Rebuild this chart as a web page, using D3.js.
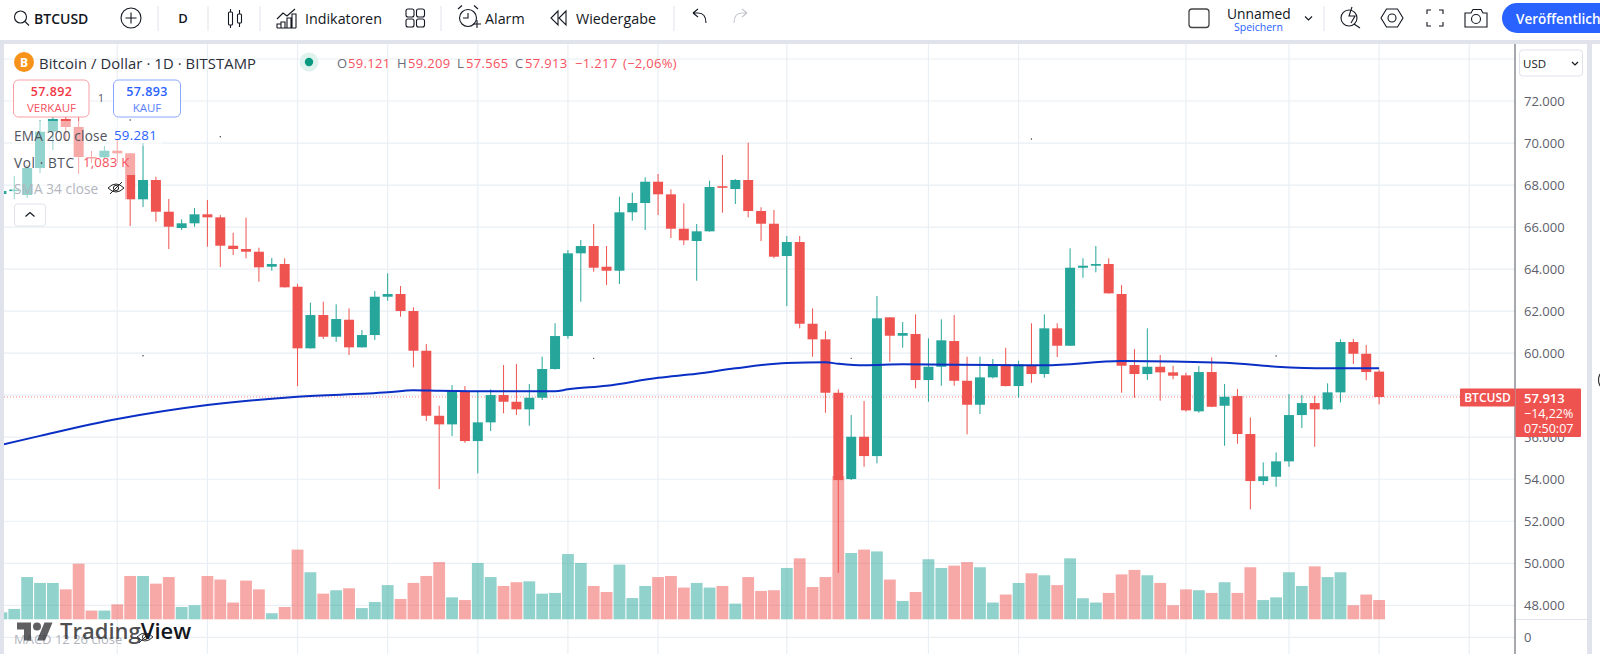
<!DOCTYPE html>
<html>
<head>
<meta charset="utf-8">
<title>BTCUSD</title>
<script src="https://cdn.jsdelivr.net/npm/d3@7"></script>
<style>
	html, body { margin: 0; padding: 0; background: #fff; overflow: hidden; }
	svg { display: block; font-family: "Open Sans", sans-serif; }
</style>
</head>
<body>
<svg id="chart" width="1600" height="654"></svg>
<script>
// Daily candles, oldest first (USD)
var opens = [
	67574,67731,67526,68811,70539,71144,70763,69335,69320,69635,
	69511,67321,68240,66731,65955,66179,66607,66464,65113,64956,
	64827,64113,64242,63161,60229,61814,60781,61590,60276,60862,
	62685,62814,62004,60115,57020,56611,58196,55816,56706,58006,
	57687,57325,57878,59244,60814,64751,65098,64113,63923,66703,
	67145,68159,67559,65922,65336,65798,67945,67812,68240,66764,
	66160,64622,65289,61400,60657,58115,54008,56021,55102,61704,
	60829,60910,58720,59353,60576,58686,57544,58848,59467,58434,
	59434,59006,61181,60353,64065,64161,64242,62814,59434,59006,
	59353,59086,58943,57230,59101,57497,57958,56150,53912,54117,
	54850,57054,57625,57325,58134,60529,59971,59121
];
var highs = [
	67800,68430,68954,71096,71429,71334,71286,69620,69858,70144,
	69525,70001,68397,67336,66369,66907,67288,66574,65731,66445,
	65018,64527,64513,63290,62400,62447,62323,62133,61100,62956,
	63799,63194,62181,60434,57497,58482,58434,58211,58277,59434,
	59482,58530,59829,61419,64908,65384,66146,65098,67445,67636,
	68369,68526,67797,67131,66146,68207,69430,68288,70015,66942,
	66812,65574,65574,62133,61052,58277,57054,57720,62718,61720,
	61481,61847,60705,61609,61814,59829,59829,59720,60258,59639,
	61419,61847,61419,64989,64513,65098,64513,63242,60196,61181,
	59910,59401,59068,59386,59800,58530,58292,56944,54802,55278,
	58054,58006,57973,58563,60657,60672,60386,59209
];
var lows = [
	67400,67336,67383,68573,69668,70144,68526,69049,69270,69049,
	66050,66955,66255,64956,65860,66017,65065,64099,64670,64513,
	63399,63923,63123,58434,60220,60672,60543,59910,60267,60624,
	62495,61733,59325,56768,53532,56054,55735,54279,56292,57135,
	57054,56545,57768,59220,60686,62447,63875,63242,63290,66303,
	65860,66574,65479,65146,63447,65780,66683,67098,66464,65336,
	64513,62242,61181,59829,57164,49548,53960,54593,54755,59591,
	60258,58325,57687,58449,58449,56135,57102,58800,58420,57878,
	58591,58830,59815,60340,63589,63846,62830,58115,57878,58720,
	57734,58753,57220,57164,57430,55593,55688,52566,53722,53641,
	54593,56435,55545,57300,57658,59481,58706,57565
];
var closes = [
	67716,67788,68811,70539,71144,70763,69335,69287,69635,69511,
	67321,68240,66731,66017,66179,66607,66464,65113,64956,64827,
	64084,64242,63133,60229,61814,60781,61624,60276,60862,62685,
	62814,62004,60115,57020,56611,58196,55816,56706,58006,57687,
	57325,57878,59244,60814,64751,65098,64065,63923,66703,67145,
	68159,67559,65922,65370,65798,67907,67883,68240,66764,66160,
	64589,65289,61400,60657,58115,53960,56021,55102,61657,60829,
	60957,58720,59353,60610,58686,57544,58848,59467,58434,59467,
	59006,61181,60353,64065,64161,64242,62847,59401,59006,59353,
	59086,58925,57278,59101,57449,57925,56150,53912,54136,54850,
	57054,57625,57325,58134,60529,59971,59101,57913
];
// Volume in thousand BTC
var volumes = [
	0.39,0.58,2.37,2.04,2.04,1.68,3.12,0.49,0.49,0.84,
	2.43,2.43,2.00,2.37,0.69,0.79,2.43,2.23,0.94,2.17,
	1.68,0.34,0.69,3.91,2.64,1.44,1.63,1.74,0.63,0.97,
	1.92,1.14,2.04,2.43,3.21,1.23,1.08,3.16,2.37,1.87,
	2.08,2.13,1.44,1.48,3.66,3.16,1.87,1.53,3.07,1.19,
	1.87,2.37,2.43,1.78,2.04,1.78,1.87,0.88,2.37,1.59,
	1.63,2.88,3.42,1.81,2.37,8.04,3.72,3.91,3.81,2.23,
	1.03,1.53,3.37,2.88,3.01,3.21,2.92,0.94,1.39,2.04,
	2.58,2.47,1.92,3.42,1.18,0.94,1.48,2.52,2.77,2.47,
	2.04,0.79,1.68,1.63,1.48,2.08,1.48,2.92,1.08,1.23,
	2.64,1.87,2.97,2.37,2.64,0.79,1.39,1.083
];
// EMA 200, read at the bars where the line bends
var emaBars = [0,3,9,16,23,30,32,34,39,43,44,47,51,54,57,61,64,65,67,70,77,81,87,95,99,103,107];
var emaValues = [55640,56064,56864,57530,57925,58134,58240,58211,58182,58182,58277,58449,58830,59020,59277,59529,59562,59496,59420,59467,59434,59420,59624,59544,59353,59277,59281];
// Small stray chart marks
var dotBars = [10,11,17,46,66,80,99];
var dotPrices = [71096,59877,70301,59753,59753,70192,59862];

var priceTicks = [72000,70000,68000,66000,64000,62000,60000,58000,56000,54000,52000,50000,48000];
var gridPrices = [74000,72000,70000,68000,66000,64000,62000,60000,58000,56000,54000,52000,50000,48000];
var gridBars = [9,16,23,30,37,44,51,61,72,79,92,100,107,114];
var macdTicks = [0];

var RED = "#ef5350", GREEN = "#26a69a", BLUE = "#2962ff", INK = "#131722", GREY = "#50535e", LINE = "#e0e3eb", GRID = "#e9eff4";
var plotLeft = 4, plotRight = 1515, paneSplit = 619.5;

var svg = d3.select("#chart");
var priceFormat = d3.formatLocale({decimal: ",", thousands: ".", grouping: [3], currency: ["", ""]}).format(",");

var x = d3.scaleLinear().domain([0, 107]).range([1.4, 1379.1]);
var y = d3.scaleLinear().domain([48000, 72000]).range([605.3, 101]);
var yVol = d3.scaleLinear().domain([0, 8.04]).range([619.3, 476]);
var yMacd = d3.scaleLinear().domain([0, 1]).range([637.3, 620]);

svg.append("clipPath").attr("id", "plot")
	.append("rect").attr("x", plotLeft).attr("y", 44).attr("width", plotRight - plotLeft).attr("height", 610);

var plot = svg.append("g").attr("clip-path", "url(#plot)");

/*
	Grid
*/
plot.selectAll(".gridH").data(gridPrices).enter().append("line")
	.attr("x1", plotLeft).attr("x2", plotRight)
	.attr("y1", function(d){ return y(d); }).attr("y2", function(d){ return y(d); })
	.attr("stroke", GRID).attr("stroke-width", 1.2);
plot.selectAll(".gridM").data(macdTicks).enter().append("line")
	.attr("x1", plotLeft).attr("x2", plotRight)
	.attr("y1", function(d){ return yMacd(d); }).attr("y2", function(d){ return yMacd(d); })
	.attr("stroke", GRID).attr("stroke-width", 1.2);
plot.selectAll(".gridV").data(gridBars).enter().append("line")
	.attr("x1", function(d){ return x(d); }).attr("x2", function(d){ return x(d); })
	.attr("y1", 44).attr("y2", 654)
	.attr("stroke", GRID).attr("stroke-width", 1.2);

/*
	Volume bars, under the candles
*/
var bars = d3.range(opens.length);
var isUp = function(i){ return closes[i] >= opens[i]; };

plot.selectAll(".vol").data(bars).enter().append("rect")
	.attr("x", function(i){ return x(i) - 5.9; })
	.attr("width", 11.8)
	.attr("y", function(i){ return yVol(volumes[i]); })
	.attr("height", function(i){ return yVol(0) - yVol(volumes[i]); })
	.attr("fill", function(i){ return isUp(i) ? GREEN : RED; })
	.attr("fill-opacity", 0.5);

plot.append("line")
	.attr("x1", plotLeft).attr("x2", plotRight)
	.attr("y1", y(closes[closes.length - 1])).attr("y2", y(closes[closes.length - 1]))
	.attr("stroke", RED).attr("stroke-opacity", 0.7).attr("stroke-dasharray", "1,2");

/*
	Candles
*/
plot.selectAll(".wick").data(bars).enter().append("line")
	.attr("x1", function(i){ return x(i); }).attr("x2", function(i){ return x(i); })
	.attr("y1", function(i){ return y(highs[i]); }).attr("y2", function(i){ return y(lows[i]); })
	.attr("stroke", function(i){ return isUp(i) ? GREEN : RED; });

plot.selectAll(".body").data(bars).enter().append("rect")
	.attr("x", function(i){ return x(i) - 5; })
	.attr("width", 10)
	.attr("y", function(i){ return y(Math.max(opens[i], closes[i])); })
	.attr("height", function(i){ return Math.max(1.6, Math.abs(y(opens[i]) - y(closes[i]))); })
	.attr("fill", function(i){ return isUp(i) ? GREEN : RED; });

/*
	EMA line and dots
*/
plot.append("path")
	.datum(emaBars)
	.attr("fill", "none").attr("stroke", "#0a2fc4").attr("stroke-width", 2)
	.attr("d", d3.line()
		.x(function(d){ return x(d); })
		.y(function(d, n){ return y(emaValues[n]); })
		.curve(d3.curveMonotoneX));

plot.selectAll(".dot").data(dotBars).enter().append("circle")
	.attr("cx", function(d){ return x(d); })
	.attr("cy", function(d, n){ return y(dotPrices[n]); })
	.attr("r", 0.7).attr("fill", "#333");

/*
	Legend block in the top left, its rows fade what is behind them
*/
var fades = [[12, 121, 151, 25], [12, 146, 124, 29], [12, 175, 115, 25]];
fades.forEach(function(r){
	plot.append("rect").attr("x", r[0]).attr("y", r[1]).attr("width", r[2]).attr("height", r[3])
		.attr("fill", "#fff").attr("fill-opacity", 0.5);
});

var label = function(parent, str, px, py, size, color, opts){
	opts = opts || {};
	return parent.append("text").text(str)
		.attr("x", px).attr("y", py)
		.attr("font-size", size)
		.attr("fill", color)
		.attr("dominant-baseline", "central")
		.attr("text-anchor", opts.anchor || "start")
		.attr("font-weight", opts.weight || 400)
		.attr("letter-spacing", opts.spacing || 0);
};

label(svg, "Bitcoin / Dollar · 1D · BITSTAMP", 39, 62.5, 14.8, "#2a2e39", {spacing: 0.1});
svg.append("circle").attr("cx", 24).attr("cy", 62).attr("r", 10).attr("fill", "#f7931a");
label(svg, "B", 24, 62, 12, "#fff", {anchor: "middle", weight: 700});
svg.append("circle").attr("cx", 309).attr("cy", 62).attr("r", 9.5).attr("fill", "#dff2ee");
svg.append("circle").attr("cx", 309).attr("cy", 62).attr("r", 4.2).attr("fill", "#089981");

var ohlcKeys = [["O", 337], ["H", 397], ["L", 457], ["C", 515]];
var ohlcVals = [["59.121", 348], ["59.209", 408], ["57.565", 466], ["57.913", 525]];
ohlcKeys.forEach(function(k){ label(svg, k[0], k[1], 62.5, 13, "#6a6d78"); });
ohlcVals.forEach(function(k){ label(svg, k[0], k[1], 62.5, 13, "#f7525f", {spacing: 0.3}); });
label(svg, "−1.217", 575, 62.5, 13, "#f7525f", {spacing: 0.3});
label(svg, "(−2,06%)", 623, 62.5, 13, "#f7525f", {spacing: 0.3});

svg.append("rect").attr("x", 13.5).attr("y", 80).attr("width", 75.5).attr("height", 37).attr("rx", 5)
	.attr("fill", "#fff").attr("stroke", "#f9a0a6");
svg.append("rect").attr("x", 113.5).attr("y", 80).attr("width", 67).attr("height", 37).attr("rx", 5)
	.attr("fill", "#fff").attr("stroke", "#8aa7ff");
label(svg, "57.892", 51.5, 91.5, 12.5, "#f23645", {anchor: "middle", weight: 600, spacing: 0.4});
label(svg, "VERKAUF", 51.5, 107, 11.5, "#f7525f", {anchor: "middle"});
label(svg, "1", 101, 98, 10.5, GREY, {anchor: "middle"});
label(svg, "57.893", 147, 91.5, 12.5, BLUE, {anchor: "middle", weight: 600, spacing: 0.4});
label(svg, "KAUF", 147, 107, 11.5, "#5a83ff", {anchor: "middle"});

label(svg, "EMA 200 close", 14, 135, 13.6, GREY, {spacing: 0.2});
label(svg, "59.281", 114, 135, 13.2, BLUE, {spacing: 0.3});
label(svg, "Vol · BTC", 14, 162, 13.6, GREY, {spacing: 0.6});
label(svg, "1,083 K", 83, 162, 13.2, "#f7525f", {spacing: 0.2});
label(svg, "SMA 34 close", 14, 188, 13.6, "#b2b5be", {spacing: 0.1});

var eye = function(cx, cy, color){
	var g = svg.append("g").attr("transform", "translate(" + cx + "," + cy + ")")
		.attr("fill", "none").attr("stroke", color).attr("stroke-width", 1);
	g.append("path").attr("d", "M-8,0 Q0,-8 8,0 Q0,8 -8,0 Z");
	g.append("circle").attr("r", 2.6);
	g.append("path").attr("d", "M-6,6 L6,-6");
};
eye(116, 188, "#222");

svg.append("rect").attr("x", 14.5).attr("y", 204).attr("width", 31).attr("height", 22).attr("rx", 3)
	.attr("fill", "#fff").attr("stroke", LINE);
svg.append("path").attr("d", "M25.5,216.5 L30,212.5 L34.5,216.5").attr("fill", "none").attr("stroke", INK).attr("stroke-width", 1.2);

/*
	Hidden MACD legend under the logo at the bottom
*/
label(svg, "MACD 12 26 close", 14, 639, 13, "#b2b5be");
eye(145, 637, "#333");
svg.append("path")
	.attr("transform", "translate(17,618.5)")
	.attr("d", "M14 22H7V11H0V4h14v18zM28 22h-8l7.5-18h8L28 22z")
	.attr("fill", "#2a2a2e").attr("fill-opacity", 0.75);
svg.append("circle").attr("cx", 37).attr("cy", 626.5).attr("r", 4).attr("fill", "#2a2a2e").attr("fill-opacity", 0.75);
var logoText = label(svg, "", 60, 630, 22, "#131722", {weight: 600});
logoText.append("tspan").text("Trading").attr("fill", "#2f2f33").attr("fill-opacity", 0.85);
logoText.append("tspan").text("View");

/*
	Page furniture around the plot
*/
svg.append("rect").attr("x", 0).attr("y", 40).attr("width", 1600).attr("height", 4).attr("fill", LINE);
svg.append("rect").attr("x", 0).attr("y", 44).attr("width", 4).attr("height", 610).attr("fill", LINE);
svg.append("rect").attr("x", 1587).attr("y", 44).attr("width", 5).attr("height", 610).attr("fill", LINE);
svg.append("path").attr("d", "M1600,374 Q1597,380 1600,386").attr("fill", "none").attr("stroke", "#333").attr("stroke-width", 1.2);

// Price axis
var axisG = svg.append("g").attr("transform", "translate(" + plotRight + ",0)")
	.call(d3.axisRight(y).tickValues(priceTicks).tickFormat(priceFormat).tickSize(0).tickPadding(9));
axisG.select(".domain").remove();
axisG.selectAll("text").attr("font-size", 13).attr("font-family", "'Open Sans', sans-serif").attr("fill", "#5d606b");

var macdAxis = svg.append("g").attr("transform", "translate(" + plotRight + ",0)")
	.call(d3.axisRight(yMacd).tickValues(macdTicks).tickFormat(d3.format("d")).tickSize(0).tickPadding(9));
macdAxis.select(".domain").remove();
macdAxis.selectAll("text").attr("font-size", 13).attr("font-family", "'Open Sans', sans-serif").attr("fill", "#5d606b");

svg.append("line").attr("x1", plotRight).attr("x2", 1587).attr("y1", paneSplit).attr("y2", paneSplit).attr("stroke", LINE);
svg.append("line").attr("x1", plotRight).attr("x2", plotRight).attr("y1", 44).attr("y2", 654).attr("stroke", "#50535e");

// USD dropdown
svg.append("rect").attr("x", 1519.5).attr("y", 50).attr("width", 63).attr("height", 26).attr("rx", 3)
	.attr("fill", "#fff").attr("stroke", LINE);
label(svg, "USD", 1523, 63, 11.5, INK);
svg.append("path").attr("d", "M1572,62 L1575,65 L1578,62").attr("fill", "none").attr("stroke", INK).attr("stroke-width", 1.2);

// Last price tags
var tagY = y(closes[closes.length - 1]);
svg.append("rect").attr("x", 1460).attr("y", tagY - 8.5).attr("width", 55).attr("height", 18).attr("rx", 1).attr("fill", RED);
label(svg, "BTCUSD", 1487.5, tagY + 0.5, 12, "#fff", {anchor: "middle", weight: 600});
svg.append("rect").attr("x", 1515.5).attr("y", tagY - 8.5).attr("width", 65.5).attr("height", 48.5).attr("rx", 1).attr("fill", RED);
label(svg, "57.913", 1524, tagY + 0.5, 13, "#fff", {weight: 600});
label(svg, "−14,22%", 1524, tagY + 16.5, 12.5, "#fff");
label(svg, "07:50:07", 1524, tagY + 31, 12.5, "#fff");

/*
	Top toolbar
*/
var bar = svg.append("g").attr("fill", "none").attr("stroke", INK).attr("stroke-width", 1.1);
[158, 208, 260, 441, 674, 1324].forEach(function(sx){
	svg.append("line").attr("x1", sx).attr("x2", sx).attr("y1", 6).attr("y2", 31).attr("stroke", LINE);
});

// search
bar.append("circle").attr("cx", 20.5).attr("cy", 17).attr("r", 6);
bar.append("path").attr("d", "M25,21.5 L29,25.5");
label(svg, "BTCUSD", 34, 18, 14, INK, {weight: 600});
// add symbol
bar.append("circle").attr("cx", 131).attr("cy", 18).attr("r", 10);
bar.append("path").attr("d", "M131,12.5 V23.5 M125.5,18 H136.5");
label(svg, "D", 183, 18, 13, INK, {anchor: "middle", weight: 600});
// candle type
bar.append("rect").attr("x", 228.5).attr("y", 12).attr("width", 4).attr("height", 13).attr("rx", 1);
bar.append("path").attr("d", "M230.5,9 V12 M230.5,25 V28 M239.5,10 V14 M239.5,23 V27");
bar.append("rect").attr("x", 237.5).attr("y", 14).attr("width", 4).attr("height", 9).attr("rx", 1);
// indicators
bar.append("path").attr("d", "M277,19 L283,13 L287,16 L295,9 M281,28 V22 H285 V28 M287,28 V18 H291 V28 M292,28 V14 H296 V28 M277,28 H296 M277,28 V24 H281");
label(svg, "Indikatoren", 305, 18, 14.3, INK);
// layouts
[[406, 9], [416.5, 9], [406, 19], [416.5, 19]].forEach(function(p){
	bar.append("rect").attr("x", p[0]).attr("y", p[1]).attr("width", 8).attr("height", 8).attr("rx", 2);
});
// alarm
bar.append("circle").attr("cx", 468).attr("cy", 18).attr("r", 8.5);
bar.append("path").attr("d", "M468,13 V18 H463 M458,9 L462,5.5 M478,9 L474,5.5 M473,24 H481 M477,20 V28");
label(svg, "Alarm", 485, 18, 14.3, INK);
// replay
bar.append("path").attr("d", "M558,11 L551,18 L558,25 Z M566,11 L559,18 L566,25 Z");
label(svg, "Wiedergabe", 576, 18, 14.3, INK);
// undo, redo
bar.append("path").attr("d", "M693,13 L698,13 Q706,13 706,23 M693,13 L698,9 M693,13 L698,17");
bar.append("path").attr("d", "M747,13 L742,13 Q734,13 734,23 M747,13 L742,9 M747,13 L742,17").attr("stroke", "#c4c6ce");

// layout name
bar.append("rect").attr("x", 1189).attr("y", 9).attr("width", 20).attr("height", 18.5).attr("rx", 3).attr("stroke-width", 1.3).attr("stroke", "#444");
label(svg, "Unnamed", 1227, 13, 13.8, INK);
label(svg, "Speichern", 1234, 27, 10.5, BLUE);
bar.append("path").attr("d", "M1305,16.5 L1308.5,20 L1312,16.5");
// quick search, settings, fullscreen, snapshot
bar.append("circle").attr("cx", 1349).attr("cy", 18).attr("r", 8);
bar.append("path").attr("d", "M1354,24 L1360,28 M1352,7 L1349,16 H1355 L1351,23");
bar.append("path").attr("d", "M1381,18 L1386.5,9 H1397.5 L1403,18 L1397.5,27 H1386.5 Z");
bar.append("circle").attr("cx", 1392).attr("cy", 18).attr("r", 4);
bar.append("path").attr("d", "M1427,14 V10 H1431 M1439,10 H1443 V14 M1443,22 V26 H1439 M1431,26 H1427 V22");
bar.append("path").attr("d", "M1465,13 H1471 L1473,9.5 H1481 L1483,13 H1487 V27 H1465 Z");
bar.append("circle").attr("cx", 1476).attr("cy", 19).attr("r", 4.5);

svg.append("rect").attr("x", 1502).attr("y", 3).attr("width", 130).attr("height", 30).attr("rx", 15).attr("fill", BLUE);
label(svg, "Veröffentlich", 1516, 18.5, 13.5, "#fff", {weight: 600});
</script>
</body>
</html>
